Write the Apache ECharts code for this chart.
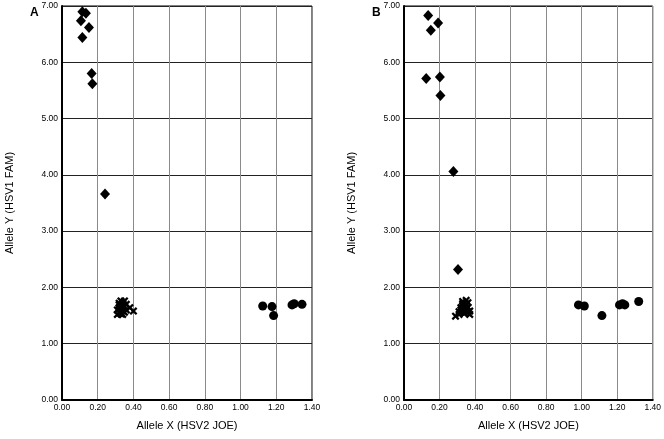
<!DOCTYPE html>
<html><head><meta charset="utf-8">
<script src="https://cdn.jsdelivr.net/npm/echarts@6/dist/echarts.min.js"></script>
<style>html,body{margin:0;padding:0;background:#fff}#c{width:664px;height:439px}</style>
</head><body><div id="c"></div>
<script>
// Tick labels
const xTicks = ['0.00','0.20','0.40','0.60','0.80','1.00','1.20','1.40'];
const yTicks = ['0.00','1.00','2.00','3.00','4.00','5.00','6.00','7.00'];
const xTitle = 'Allele X (HSV2 JOE)';
const yTitle = 'Allele Y (HSV1 FAM)';
const panelLabels = ['A','B'];

// Panel A
const aDiamonds = [[0.114,6.90],[0.134,6.87],[0.106,6.74],[0.151,6.62],[0.114,6.44],[0.166,5.80],[0.170,5.62],[0.241,3.66]];
const aCircles = [[1.124,1.67],[1.176,1.66],[1.185,1.50],[1.288,1.69],[1.300,1.71],[1.344,1.70]];
const aCrosses = [[0.31,1.52],[0.32,1.55],[0.33,1.58],[0.31,1.60],[0.32,1.64],[0.33,1.68],[0.32,1.72],[0.33,1.76],[0.35,1.76],[0.34,1.72],[0.35,1.66],[0.34,1.62],[0.35,1.56],[0.34,1.52],[0.36,1.60],[0.33,1.63],[0.38,1.64],[0.40,1.58],[0.36,1.70],[0.32,1.69],[0.34,1.58],[0.33,1.53]];

// Panel B
const bDiamonds = [[0.136,6.83],[0.192,6.70],[0.151,6.57],[0.125,5.71],[0.202,5.74],[0.205,5.41],[0.278,4.06],[0.304,2.32]];
const bCircles = [[0.982,1.69],[1.015,1.67],[1.114,1.50],[1.213,1.69],[1.230,1.71],[1.243,1.69],[1.321,1.75]];
const bCrosses = [[0.29,1.49],[0.31,1.52],[0.32,1.56],[0.33,1.60],[0.32,1.64],[0.33,1.68],[0.34,1.72],[0.35,1.77],[0.33,1.75],[0.35,1.70],[0.36,1.65],[0.35,1.60],[0.36,1.55],[0.34,1.54],[0.37,1.58],[0.34,1.65],[0.36,1.73],[0.31,1.57],[0.37,1.52],[0.33,1.71],[0.35,1.63],[0.32,1.60]];

const panels = [
  {diamonds:aDiamonds, circles:aCircles, crosses:aCrosses},
  {diamonds:bDiamonds, circles:bCircles, crosses:bCrosses}
];

const font = 'Liberation Sans, Arial, sans-serif';
const crossPath = 'path://M0,2L2,0L5,3L8,0L10,2L7,5L10,8L8,10L5,7L2,10L0,8L3,5Z';

const grids = [
  {left:62, top:6, width:250, height:394},
  {left:404, top:6, width:250, height:394}
];

const xAxes = [], yAxes = [], series = [];
grids.forEach((g, i) => {
  g.show = true; g.borderColor = '#000'; g.borderWidth = 1; g.containLabel = false;
  xAxes.push({
    gridIndex:i, type:'value', min:0, max:1.4, interval:0.2,
    name:xTitle, nameLocation:'middle', nameGap:20,
    nameTextStyle:{fontFamily:font, fontSize:11, color:'#000'},
    axisLine:{show:true, lineStyle:{color:'#000', width:2}},
    axisTick:{show:false},
    axisLabel:{fontFamily:font, fontSize:8.5, color:'#000', margin:3,
      formatter:(v)=>xTicks[Math.round(v/0.2)]},
    splitLine:{show:true, lineStyle:{color:'#8a8a8a', width:1}}
  });
  yAxes.push({
    gridIndex:i, type:'value', min:0, max:7, interval:1,
    name:yTitle, nameLocation:'middle', nameGap:47, nameRotate:90,
    nameTextStyle:{fontFamily:font, fontSize:11, color:'#000'},
    axisLine:{show:true, lineStyle:{color:'#000', width:2}},
    axisTick:{show:false},
    axisLabel:{fontFamily:font, fontSize:8.5, color:'#000', margin:4,
      formatter:(v)=>yTicks[Math.round(v)]},
    splitLine:{show:true, lineStyle:{color:'#222', width:1}}
  });
  const p = panels[i];
  series.push({type:'scatter', xAxisIndex:i, yAxisIndex:i, data:p.crosses, symbol:crossPath, symbolSize:8, itemStyle:{color:'#000', opacity:1}, z:3});
  series.push({type:'scatter', xAxisIndex:i, yAxisIndex:i, data:p.diamonds, symbol:'diamond', symbolSize:[10,11], itemStyle:{color:'#000', opacity:1}, z:4});
  series.push({type:'scatter', xAxisIndex:i, yAxisIndex:i, data:p.circles, symbol:'circle', symbolSize:9, itemStyle:{color:'#000', opacity:1}, z:4});
});

const chart = echarts.init(document.getElementById('c'), null, {renderer:'canvas'});
chart.setOption({
  animation:false,
  backgroundColor:'#fff',
  title:[
    {text:panelLabels[0], left:25, top:2, textStyle:{fontFamily:font, fontSize:12, fontWeight:'bold', color:'#000'}},
    {text:panelLabels[1], left:367, top:2, textStyle:{fontFamily:font, fontSize:12, fontWeight:'bold', color:'#000'}}
  ],
  grid:grids, xAxis:xAxes, yAxis:yAxes, series:series
});
</script></body></html>
